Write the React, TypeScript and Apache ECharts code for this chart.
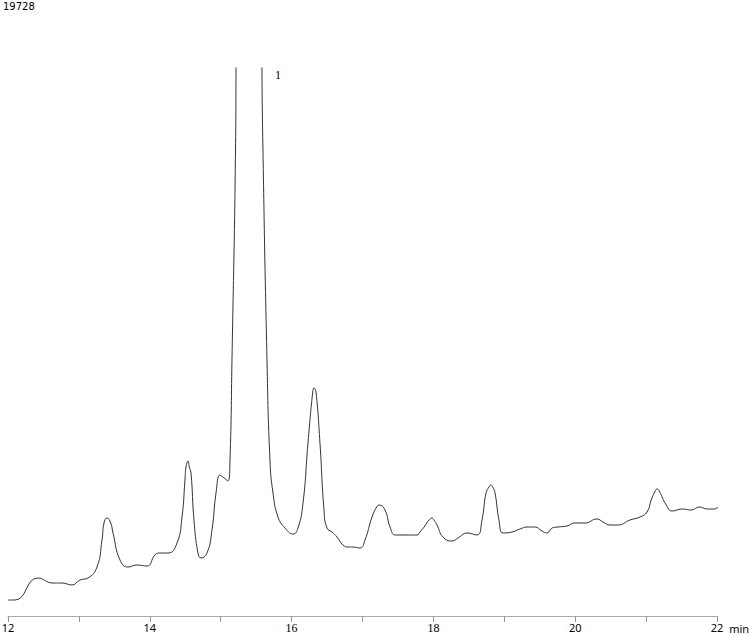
import React, { useEffect, useRef } from "react";
import * as echarts from "echarts";

// Retention time (min)
const times: number[] = [
  12.0, 12.099, 12.423, 12.635, 12.762, 12.903, 13.016, 13.128, 13.255, 13.326,
  13.354, 13.396, 13.449, 13.481, 13.58, 13.693, 13.819, 13.961, 14.073, 14.144,
  14.257, 14.384, 14.454, 14.496, 14.511, 14.539, 14.557, 14.581, 14.623, 14.68,
  14.722, 14.807, 14.877, 14.934, 14.99, 15.032, 15.103, 15.131, 15.159, 15.209,
  15.216, 15.23, 15.399, 15.568, 15.582, 15.596, 15.653, 15.695, 15.738, 15.808,
  15.907, 16.02, 16.09, 16.161, 16.231, 16.298, 16.316, 16.344, 16.4, 16.457,
  16.499, 16.57, 16.64, 16.725, 16.795, 16.866, 16.965, 17.035, 17.134, 17.2,
  17.233, 17.317, 17.388, 17.458, 17.486, 17.628, 17.769, 17.811, 17.88, 17.938,
  17.98, 18.008, 18.051, 18.135, 18.262, 18.347, 18.474, 18.615, 18.685, 18.742,
  18.784, 18.812, 18.836, 18.869, 18.925, 18.982, 19.109, 19.222, 19.32, 19.433,
  19.532, 19.603, 19.673, 19.757, 19.884, 19.997, 20.138, 20.307, 20.392, 20.491,
  20.603, 20.773, 20.914, 21.013, 21.072, 21.128, 21.156, 21.185, 21.284, 21.368,
  21.509, 21.636, 21.749, 21.862, 21.96, 22.017,
];

// Detector response
const signal: number[] = [
  576, 576, 1368, 1188, 1188, 1116, 1296, 1368, 1764, 2736,
  3348, 3528, 3348, 2988, 2016, 1764, 1836, 1800, 2196, 2268,
  2268, 2628, 3564, 4896, 5364, 5580, 5364, 5148, 3456, 2268,
  2088, 2268, 3096, 4428, 5076, 5004, 4860, 5616, 9216, 16776,
  19728, 30000, 80000, 30000, 19728, 16776, 9216, 5616, 4428, 3564,
  3168, 2952, 3168, 4068, 6228, 8064, 8208, 8064, 6228, 3816,
  3168, 3024, 2844, 2556, 2484, 2484, 2448, 2736, 3564, 3924,
  3996, 3816, 3204, 2916, 2916, 2916, 2916, 3024, 3240, 3456,
  3528, 3456, 3276, 2844, 2700, 2808, 2988, 2916, 3456, 4428,
  4644, 4716, 4644, 4428, 3456, 2988, 3024, 3132, 3204, 3204,
  3060, 2988, 3168, 3204, 3240, 3348, 3348, 3492, 3384, 3276,
  3276, 3456, 3564, 3744, 4176, 4500, 4572, 4500, 3996, 3780,
  3852, 3816, 3924, 3852, 3852, 3924,
];

const yMaxLabel = "19728";
const xTickValues: number[] = [12, 14, 16, 18, 20, 22];
const serifTicks: number[] = [16, 18];
const peakLabel = { text: "1", time: 15.808, value: 19476 };

export default function App() {
  const ref = useRef<HTMLDivElement>(null);

  useEffect(() => {
    document.body.style.margin = "0";
    if (!ref.current) return;
    const chart = echarts.init(ref.current, undefined, { renderer: "svg" });
    const data = times.map((t, i) => [t, signal[i]]);
    chart.setOption({
      animation: false,
      backgroundColor: "#ffffff",
      grid: {
        left: 8,
        right: 33,
        top: 68,
        bottom: 19,
        containLabel: false,
        outerBoundsMode: "none",
      },
      graphic: [
        {
          type: "text",
          left: 3,
          top: 1,
          style: {
            text: yMaxLabel,
            fontSize: 10,
            fontFamily: "DejaVu Sans",
            fill: "#000",
          },
        },
      ],
      xAxis: {
        type: "value",
        min: 12,
        max: 22,
        interval: 1,
        name: "min",
        nameLocation: "end",
        nameGap: 12,
        nameTextStyle: {
          fontSize: 11,
          fontFamily: "Noto Sans",
          color: "#000",
          verticalAlign: "top",
          padding: [7, 0, 0, 0],
        },
        axisLine: { show: true, lineStyle: { color: "#aaaaaa", width: 1 } },
        axisTick: { show: true, length: 6, lineStyle: { color: "#999999" } },
        splitLine: { show: false },
        axisLabel: {
          margin: 6,
          fontSize: 11,
          fontFamily: "Noto Sans",
          color: "#000",
          formatter: (v: number) => {
            if (!xTickValues.includes(v)) return "";
            return serifTicks.includes(v) ? `{s|${v}}` : `${v}`;
          },
          rich: {
            s: { fontFamily: "Liberation Serif", fontSize: 12, color: "#000" },
          },
        },
      },
      yAxis: {
        type: "value",
        min: 0,
        max: 19728,
        show: false,
        splitLine: { show: false },
      },
      series: [
        {
          type: "line",
          data,
          showSymbol: false,
          symbol: "none",
          smooth: 0.5,
          clip: true,
          lineStyle: { color: "#333333", width: 1 },
          markPoint: {
            symbol: "circle",
            symbolSize: 0,
            data: [
              {
                coord: [peakLabel.time, peakLabel.value],
                label: {
                  show: true,
                  position: "inside",
                  formatter: peakLabel.text,
                  fontFamily: "Liberation Serif",
                  fontSize: 12,
                  color: "#000",
                },
              },
            ],
          },
        },
      ],
    });
    return () => chart.dispose();
  }, []);

  return <div ref={ref} style={{ width: 750, height: 635 }} />;
}
